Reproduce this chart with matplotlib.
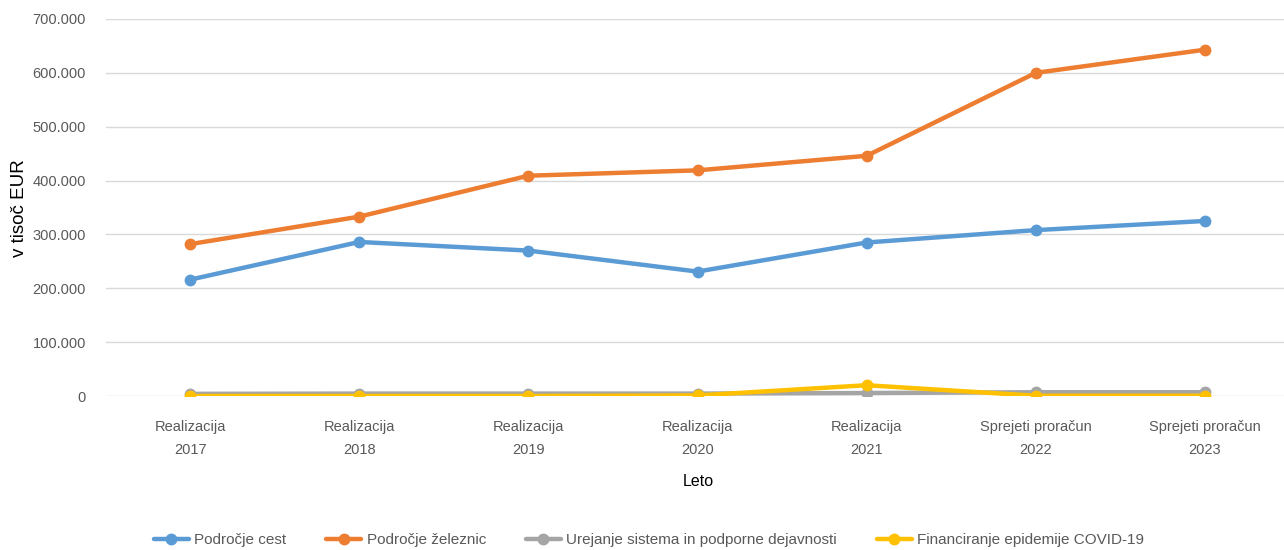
import matplotlib
matplotlib.use("Agg")
from matplotlib import pyplot as plt
from matplotlib.ticker import FuncFormatter

# podatki (v tisoč EUR)
categories = ["Realizacija\n2017", "Realizacija\n2018", "Realizacija\n2019", "Realizacija\n2020",
              "Realizacija\n2021", "Sprejeti proračun\n2022", "Sprejeti proračun\n2023"]
ceste = [216000, 286000, 270000, 231000, 285000, 308000, 325000]
zeleznice = [282000, 333000, 409000, 419000, 446000, 600000, 643000]
urejanje = [4000, 4500, 4500, 4500, 5500, 7000, 7000]
covid = [0, 0, 0, 1000, 20000, 500, 500]

series_names = ["Področje cest", "Področje železnic",
                "Urejanje sistema in podporne dejavnosti", "Financiranje epidemije COVID-19"]
colors = ["#5B9BD5", "#ED7D31", "#A5A5A5", "#FFC000"]

plt.rcParams['font.family'] = ['Liberation Sans', 'DejaVu Sans']

W, H = 1284, 550
fig = plt.figure(figsize=(W / 100, H / 100), dpi=100)
ax = fig.add_axes([105.5 / W, 1 - 396 / H, 1184 / W, 377 / H])

x = list(range(len(categories)))
for vals, name, col in zip([ceste, zeleznice, urejanje, covid], series_names, colors):
    ax.plot(x, vals, color=col, lw=3.2, marker="o", ms=7.5, label=name, solid_capstyle="round")

ax.set_xlim(-0.5, len(categories) - 0.5)
ax.set_ylim(0, 700000)
ax.set_yticks(range(0, 700001, 100000))
ax.yaxis.set_major_formatter(FuncFormatter(lambda v, p: f"{int(v):,}".replace(",", ".")))
ax.set_xticks(x)
ax.set_xticklabels(categories, linespacing=1.85)
ax.grid(axis="y", color="#D9D9D9", lw=1)
ax.set_axisbelow(True)
for s in ax.spines.values():
    s.set_visible(False)
ax.tick_params(length=0, labelsize=10.5, labelcolor="#595959")
ax.tick_params(axis="y", pad=14)
ax.tick_params(axis="x", pad=17)

fig.text(20 / W, 1 - 208 / H, "v tisoč EUR", rotation=90, ha="center", va="center", fontsize=13.5)
fig.text(698 / W, 1 - 481 / H, "Leto", ha="center", va="center", fontsize=11.5)

fig.legend(loc="center", bbox_to_anchor=(649 / W, 1 - 540 / H), ncol=4, frameon=False,
           fontsize=11, labelcolor="#595959", handlelength=2.3, handletextpad=0.35,
           columnspacing=2.6)

fig.savefig("out.png", dpi=100)
plt.close()
